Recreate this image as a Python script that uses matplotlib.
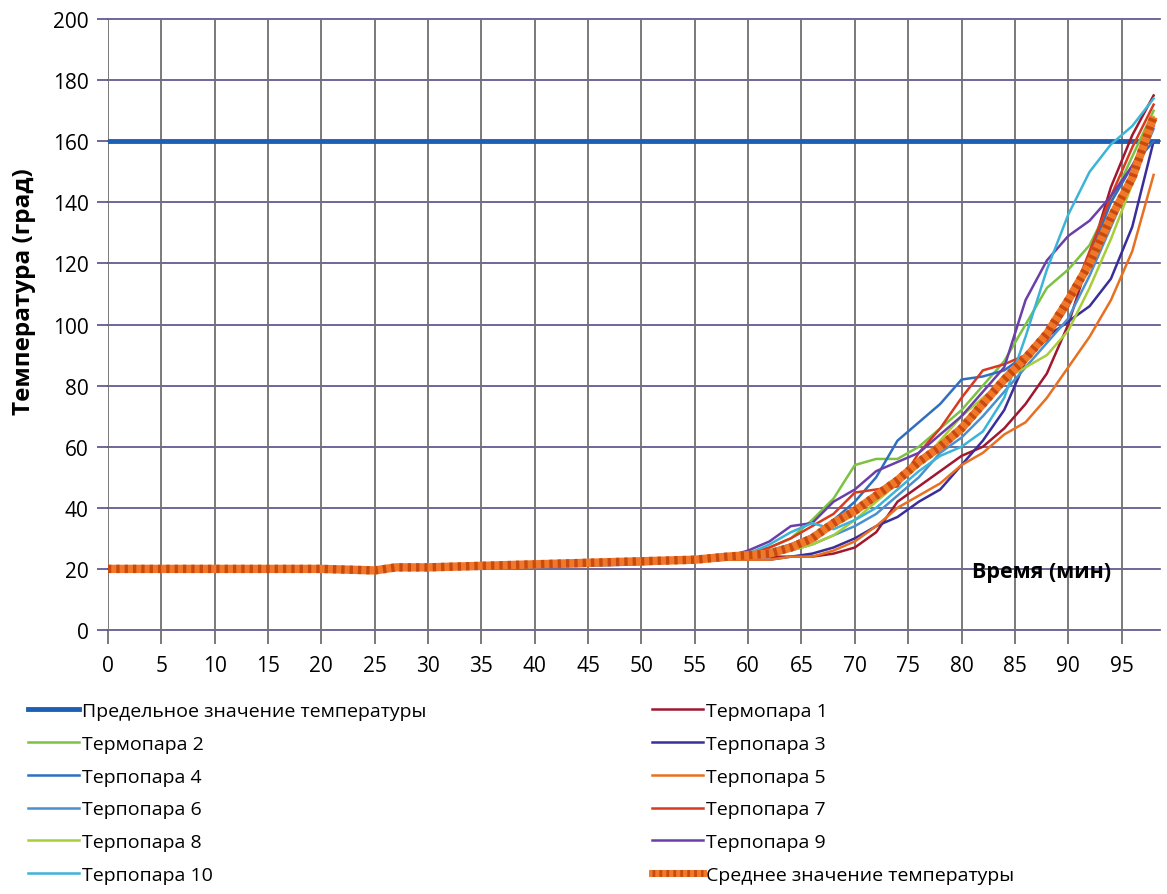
import matplotlib
matplotlib.use("Agg")
import matplotlib.pyplot as plt
from matplotlib.lines import Line2D
from matplotlib.legend_handler import HandlerTuple

plt.rcParams['font.family'] = ['Open Sans', 'DejaVu Sans']

# ---- data ----
time_min = [0, 5, 10, 15, 20, 25, 27, 30, 35, 40, 45, 50, 55,
            58, 60, 62, 64, 66, 68, 70, 72, 74, 76, 78, 80, 82, 84, 86, 88, 90, 92, 94, 96, 98]

limit_temp = 160

t1 = [20, 20, 20, 20, 20, 19.5, 20.5, 20.5, 21, 21.5, 22, 22.5, 23,
      23.5, 24, 24, 24, 24, 25, 27, 32, 42, 47, 52, 57, 60, 66, 74, 84, 100, 122, 145, 162, 175]
t2 = [20, 20, 20, 20, 20, 19.5, 20.5, 20.5, 21, 21.5, 22, 22.5, 23,
      24, 25, 27, 30, 36, 43, 54, 56, 56, 60, 66, 72, 80, 88, 100, 112, 118, 126, 140, 155, 170]
t3 = [20, 20, 20, 20, 20, 19.5, 20, 20.5, 21, 21, 21.5, 22, 22.5,
      23, 23, 23, 24, 25, 27, 30, 34, 37, 42, 46, 54, 62, 72, 88, 96, 101, 106, 115, 132, 160]
t4 = [20, 20, 20, 20, 20, 19.5, 20, 20, 20.5, 21, 21.5, 22, 23,
      24, 25, 26, 28, 31, 36, 42, 50, 62, 68, 74, 82, 83, 85, 90, 98, 106, 122, 140, 152, 160]
t5 = [20, 20, 20, 20, 20, 19.5, 20.5, 20.5, 21, 21.5, 22, 22.5, 23,
      23, 23, 23, 24, 24, 26, 29, 34, 40, 44, 48, 54, 58, 64, 68, 76, 86, 96, 108, 124, 149]
t6 = [20, 20, 20, 20, 20, 19.5, 20, 20, 20, 20.5, 21, 21.5, 22.5,
      23.5, 24, 25, 26, 28, 31, 34, 38, 44, 50, 58, 63, 70, 78, 86, 94, 102, 116, 132, 148, 164]
t7 = [20, 20, 20, 20, 20, 19.5, 20.5, 20.5, 21, 21.5, 22, 22.5, 23,
      24, 25, 27, 30, 34, 38, 45, 46, 47, 58, 66, 76, 85, 87, 90, 95, 106, 124, 142, 158, 172]
t8 = [20, 20, 20, 20, 20, 19.5, 20.5, 20.5, 21, 21.5, 22, 22.5, 23,
      23.5, 24, 25, 26, 28, 31, 36, 42, 48, 54, 62, 70, 76, 82, 86, 90, 98, 112, 128, 146, 168]
t9 = [20, 20, 20, 20, 20, 19.5, 20.5, 20.5, 21, 21.5, 22, 22.5, 23,
      24, 26, 29, 34, 35, 42, 46, 52, 55, 58, 64, 70, 78, 86, 108, 121, 129, 134, 142, 152, 165]
t10 = [20, 20, 20, 20, 20, 19.5, 20.5, 20.5, 21, 21.5, 22, 22.5, 23,
       24, 25, 28, 32, 35, 33, 36, 40, 46, 52, 57, 60, 65, 76, 96, 118, 136, 150, 159, 165, 174]
avg = [20, 20, 20, 20, 20, 19.5, 20.5, 20.5, 21, 21.5, 22, 22.5, 23,
       24, 24.5, 25, 27, 30, 35, 39, 44, 49, 55, 60, 66, 74, 82, 89, 97, 108, 120, 135, 148, 168]

x_ticks = list(range(0, 100, 5))
y_ticks = list(range(0, 201, 20))

labels = ["Предельное значение температуры", "Термопара 1", "Термопара 2", "Терпопара 3",
          "Терпопара 4", "Терпопара 5", "Терпопара 6", "Терпопара 7", "Терпопара 8",
          "Терпопара 9", "Терпопара 10", "Среднее значение температуры"]

colors = {
    'limit': '#1d5fb5', 't1': '#a01830', 't2': '#7cc242', 't3': '#3a2f9a', 't4': '#2f6fc0',
    't5': '#e87020', 't6': '#4a90d0', 't7': '#d83a20', 't8': '#a6ce39', 't9': '#6b3fa8',
    't10': '#3cb4d8', 'avg': '#f07828'
}

fig = plt.figure(figsize=(11.67, 8.95), dpi=100)
ax = fig.add_axes([0.0925, 0.295, 0.9015, 0.6825])

# grid
grid_h = '#5a4a86'
grid_v = '#707070'
for yv in y_ticks:
    ax.axhline(yv, color=grid_h, lw=1.2, zorder=1, clip_on=False)
for xv in x_ticks:
    ax.axvline(xv, color=grid_v, lw=1.3, zorder=1)

series = [('t1', t1), ('t2', t2), ('t3', t3), ('t4', t4), ('t5', t5), ('t6', t6),
          ('t7', t7), ('t8', t8), ('t9', t9), ('t10', t10)]
handles = {}
handles['limit'], = ax.plot([time_min[0], 98.6], [limit_temp, limit_temp], color=colors['limit'], lw=3.5, zorder=3)
for key, vals in series:
    h, = ax.plot(time_min, vals, color=colors[key], lw=1.8, zorder=4)
    handles[key] = h
ax.plot(time_min, avg, color=colors['avg'], lw=6, zorder=6, solid_capstyle='butt')
ax.plot(time_min, avg, color='#c84a10', lw=6, ls=(0, (0.4, 0.6)), zorder=7)
avg_handle = (Line2D([], [], color=colors['avg'], lw=5),
              Line2D([], [], color='#c84a10', lw=5, ls=(0, (0.4, 0.6))))

ax.set_xlim(0, 98.6)
ax.set_ylim(0, 200)
ax.set_xticks(x_ticks)
ax.set_yticks(y_ticks)
ax.tick_params(axis='x', length=10, width=1.3, color=grid_v, labelsize=15, pad=8)
ax.tick_params(axis='y', length=8, width=1.2, color=grid_h, labelsize=15, pad=6)
for s in ax.spines.values():
    s.set_visible(False)

ax.set_ylabel("Температура (град)", fontsize=17.5, fontweight='bold', labelpad=8)
ax.yaxis.set_label_coords(-0.068, 0.555)
ax.text(87.5, 19.0, "Время (мин)", fontsize=15.5, fontweight='bold', ha='center', va='center', zorder=8)

left_keys = ['limit', 't2', 't4', 't6', 't8', 't10']
right_keys = ['t1', 't3', 't5', 't7', 't9']
key_to_label = dict(zip(['limit', 't1', 't2', 't3', 't4', 't5', 't6', 't7', 't8', 't9', 't10', 'avg'], labels))

leg_kw = dict(frameon=False, fontsize=14, handlelength=2.6, handletextpad=0.2,
              labelspacing=0.76, borderpad=0, borderaxespad=0)
leg1 = fig.legend([handles[k] for k in left_keys], [key_to_label[k] for k in left_keys],
                  loc='upper left', bbox_to_anchor=(28 / 1167, 1 - 703 / 895), **leg_kw)
rh = [handles[k] for k in right_keys] + [avg_handle]
rl = [key_to_label[k] for k in right_keys] + [key_to_label['avg']]
leg2 = fig.legend(rh, rl, loc='upper left', bbox_to_anchor=(652 / 1167, 1 - 703 / 895),
                  handler_map={tuple: HandlerTuple(ndivide=1)}, **leg_kw)

fig.savefig("out.png", dpi=100)
